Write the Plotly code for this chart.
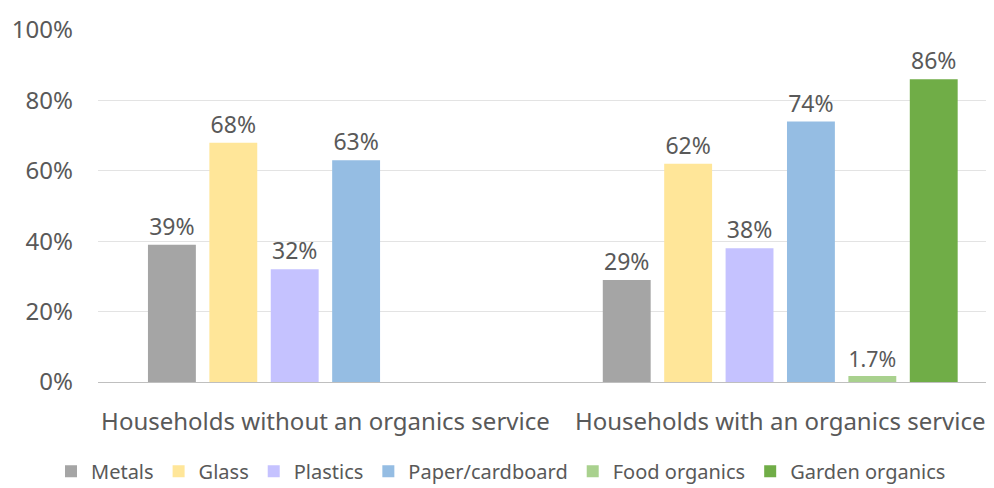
import plotly.graph_objects as go

categories = ["Households without an organics service", "Households with an organics service"]
series_names = ["Metals", "Glass", "Plastics", "Paper/cardboard", "Food organics", "Garden organics"]
metals = [39, 29]
glass = [68, 62]
plastics = [32, 38]
paper = [63, 74]
food = [None, 1.7]
garden = [None, 86]
labels_metals = ["39%", "29%"]
labels_glass = ["68%", "62%"]
labels_plastics = ["32%", "38%"]
labels_paper = ["63%", "74%"]
labels_food = ["", "1.7%"]
labels_garden = ["", "86%"]
colors = ["#A5A5A5", "#FFE699", "#C5C2FF", "#95BDE3", "#A9D18E", "#70AD47"]

values = [metals, glass, plastics, paper, food, garden]
labels = [labels_metals, labels_glass, labels_plastics, labels_paper, labels_food, labels_garden]

FONT = "Noto Sans"
TXT = "#595959"

fig = go.Figure()
for name, vals, labs, col in zip(series_names, values, labels, colors):
    fig.add_trace(go.Bar(
        name=name, x=categories, y=vals, text=labs,
        textposition="outside", texttemplate="%{text}",
        textfont=dict(family=FONT, size=23, color=TXT),
        marker=dict(color=col, line=dict(width=0)),
        cliponaxis=False,
    ))

# page body adds an 8px offset, so the figure is 8px smaller and margins shifted
fig.update_layout(
    width=986, height=480,
    margin=dict(l=90, r=0, t=22, b=106, autoexpand=False),
    paper_bgcolor="white", plot_bgcolor="white",
    barmode="group", bargap=0.19, bargroupgap=0.22,
    font=dict(family=FONT, size=24, color=TXT),
    showlegend=True,
    legend=dict(orientation="h", x=0.5, xanchor="center", xref="container",
                y=-0.198, yref="paper", yanchor="top",
                font=dict(family=FONT, size=20, color=TXT),
                itemwidth=30, tracegroupgap=0),
)
fig.update_xaxes(type="category", range=[-0.5, 1.47], showline=True, linecolor="#BFBFBF",
                 linewidth=1, ticks="", tickfont=dict(family=FONT, size=24, color=TXT),
                 ticklabelstandoff=18)
fig.update_yaxes(range=[0, 100], dtick=20, ticksuffix="%", showgrid=True, gridcolor="#E3E3E3",
                 gridwidth=1, zeroline=False, showline=False,
                 tickfont=dict(family=FONT, size=24, color=TXT), ticklabelstandoff=24)

fig.write_html("out.html")
